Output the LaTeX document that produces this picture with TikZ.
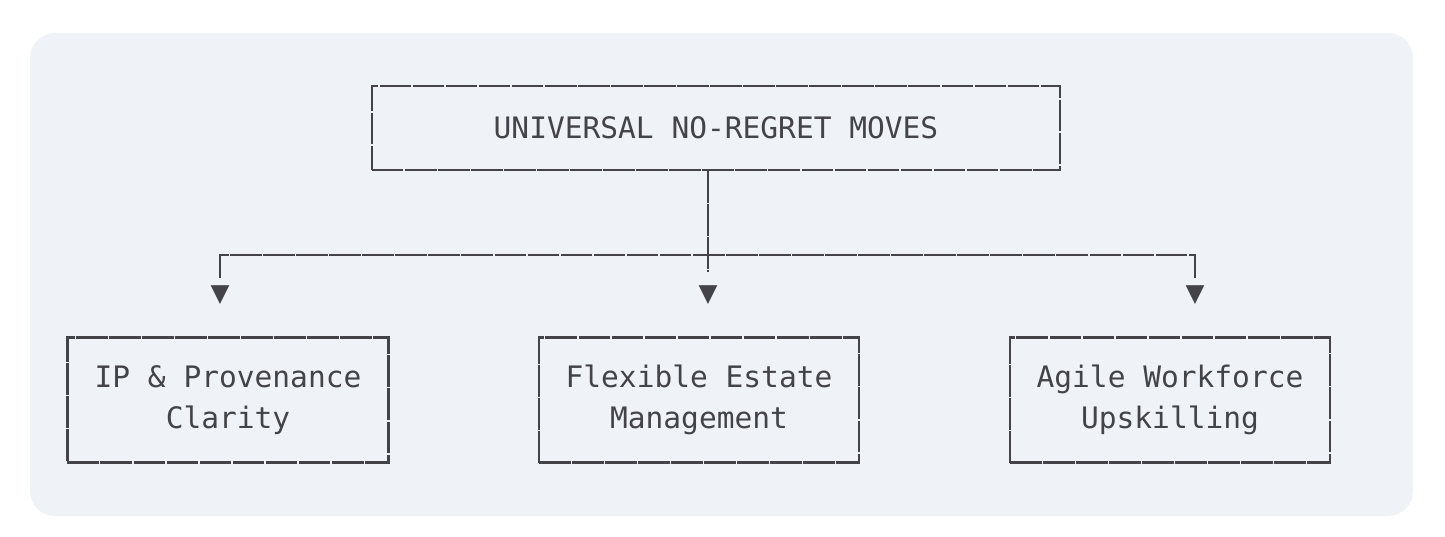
\documentclass[tikz,border=0pt]{standalone}
\usepackage{fontspec}
\setmonofont{DejaVu Sans Mono}
\newfontfamily\symfont{DejaVu Sans}
\usetikzlibrary{positioning,calc}
\definecolor{panel}{RGB}{239,242,246}
\definecolor{ink}{RGB}{68,68,72}
\begin{document}
\begin{tikzpicture}[x=0.01cm,y=-0.01cm,
    box/.style={draw=ink,line width=0.65pt,dash pattern=on 9pt off 0.4pt,inner sep=0pt,
        font=\ttfamily\fontsize{8.4}{11.8}\selectfont,text=ink,align=center},
    link/.style={draw=ink,line width=0.65pt,dash pattern=on 9pt off 0.4pt},
    tip/.style={font=\symfont\fontsize{7}{7}\selectfont,text=ink,inner sep=0pt}]
    \useasboundingbox (0,0) rectangle (1445,536);
    \fill[panel,rounded corners=0.25cm] (30,33) rectangle (1413,516);
    % top box
    \node[box,minimum width=6.88cm,minimum height=0.84cm] (top) at (716,128) {UNIVERSAL NO-REGRET MOVES};
    % bottom boxes
    \node[box,minimum width=3.21cm,minimum height=1.25cm] (ip) at (228,400) {IP \& Provenance\\Clarity};
    \node[box,minimum width=3.2cm,minimum height=1.25cm] (est) at (699,400) {Flexible Estate\\Management};
    \node[box,minimum width=3.2cm,minimum height=1.25cm] (agi) at (1170,400) {Agile Workforce\\Upskilling};
    % connectors
    \coordinate (hub) at (708,255);
    \coordinate (l) at (220,255);
    \coordinate (r) at (1195,255);
    \node[tip] (t1) at (220,295) {▼};
    \node[tip] (t2) at (708,295) {▼};
    \node[tip] (t3) at (1195,295) {▼};
    \draw[link] (top.south -| hub) -- (hub) -- (t2.north |- 0,272);
    \draw[link] (l |- 0,278) -- (l) -- (r) -- (r |- 0,278);
\end{tikzpicture}
\end{document}
